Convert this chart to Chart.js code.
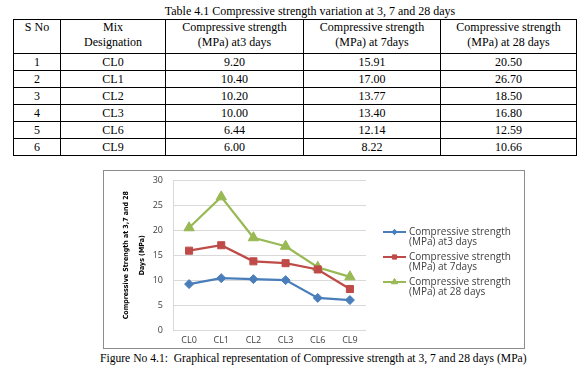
<!DOCTYPE html>
<html>
<head>
<meta charset="utf-8">
<script src="https://cdn.jsdelivr.net/npm/chart.js@4"></script>
<style>
  html, body { margin:0; padding:0; background:#fff; }
  body { width:588px; height:373px; position:relative; overflow:hidden; font-family:"Liberation Serif", "Times New Roman", serif; }
  #ttl { position:absolute; left:150px; width:320px; top:4px; text-align:center; font-size:12px; color:#000; white-space:nowrap; }
  table { position:absolute; left:13px; top:19px; border-collapse:collapse; font-size:12px; color:#000; font-family:"Liberation Serif", serif; }
  td { border:1px solid #000; text-align:center; padding:0; line-height:14px; height:16px; }
  th { border:1px solid #000; text-align:center; font-weight:normal; padding:0; line-height:15px; height:33px; vertical-align:top; }
  #frame { position:absolute; left:103px; top:170px; width:420px; height:177px; border:1px solid #8c8c8c; }
  #c { position:absolute; left:0; top:-6px; }
  #cap { position:absolute; left:100px; top:352px; font-size:11.6px; white-space:pre; color:#000; }
</style>
</head>
<body>
<div id="ttl">Table 4.1 Compressive strength variation at 3, 7 and 28 days</div>
<table id="tbl"></table>
<div id="frame"><canvas id="c" width="420" height="183"></canvas></div>
<div id="cap">Figure No 4.1:  Graphical representation of Compressive strength at 3, 7 and 28 days (MPa)</div>
<script>
const categories = ["CL0", "CL1", "CL2", "CL3", "CL6", "CL9"];
const serialNos = ["1", "2", "3", "4", "5", "6"];
const days3 = [9.20, 10.40, 10.20, 10.00, 6.44, 6.00];
const days7 = [15.91, 17.00, 13.77, 13.40, 12.14, 8.22];
const days28 = [20.50, 26.70, 18.50, 16.80, 12.59, 10.66];
const seriesLabels = [
  ["Compressive strength", "(MPa) at3 days"],
  ["Compressive strength", "(MPa) at 7days"],
  ["Compressive strength", "(MPa) at 28 days"]
];
const tableHeaders = [
  ["S No"], ["Mix", "Designation"],
  ["Compressive strength", "(MPa) at3 days"],
  ["Compressive strength", "(MPa) at 7days"],
  ["Compressive strength", "(MPa) at 28 days"]
];
const yTicks = [0, 5, 10, 15, 20, 25, 30];
const yTitle = ["Compressive Strength at 3,7 and 28", "Days (MPa)"];

// build table
const colW = [47, 105, 138, 137, 136];
const tbl = document.getElementById('tbl');
let html = '<tr>' + tableHeaders.map((h, i) => `<th style="width:${colW[i]-1}px">${h.join('<br>')}</th>`).join('') + '</tr>';
categories.forEach((c, i) => {
  html += `<tr><td>${serialNos[i]}</td><td>${c}</td><td>${days3[i].toFixed(2)}</td><td>${days7[i].toFixed(2)}</td><td>${days28[i].toFixed(2)}</td></tr>`;
});
tbl.innerHTML = html;

const colors = ["#4a7ebb", "#be4b48", "#98b954"];
const styles = ["rectRot", "rect", "triangle"];
const radii = [4.5, 5, 6];

const legendPlugin = {
  id: 'sideLegend',
  afterDraw(chart) {
    const ctx = chart.ctx;
    ctx.save();
    chart.data.datasets.forEach((ds, i) => {
      const y0 = 67 + i * 25;
      ctx.strokeStyle = ds.borderColor;
      ctx.lineWidth = 2;
      ctx.beginPath();
      ctx.moveTo(279, y0);
      ctx.lineTo(302, y0);
      ctx.stroke();
      ctx.fillStyle = ds.backgroundColor;
      ctx.strokeStyle = ds.borderColor;
      ctx.lineWidth = 1;
      Chart.helpers.drawPoint(ctx, {pointStyle: ds.pointStyle, radius: ds.pointRadius * 0.6, borderWidth: 1}, 290.5, y0);
      ctx.fillStyle = '#404040';
      ctx.font = '10px "Open Sans"';
      ctx.textBaseline = 'middle';
      ds.label.forEach((t, k) => ctx.fillText(t, 305, y0 + k * 10.5));
    });
    ctx.restore();
  }
};

const mk = (label, data, i) => ({
  label, data,
  borderColor: colors[i], backgroundColor: colors[i],
  pointBackgroundColor: colors[i], pointBorderColor: colors[i],
  pointStyle: styles[i], pointRadius: radii[i], pointBorderWidth: 1,
  borderWidth: 2.25, tension: 0
});

new Chart(document.getElementById('c'), {
  type: 'line',
  data: {
    labels: categories,
    datasets: [mk(seriesLabels[0], days3, 0), mk(seriesLabels[1], days7, 1), mk(seriesLabels[2], days28, 2)]
  },
  options: {
    responsive: false, animation: false, devicePixelRatio: 1,
    layout: { autoPadding: false, padding: { left: 14, right: 158, top: 3, bottom: 0 } },
    plugins: { legend: { display: false }, tooltip: { enabled: false } },
    scales: {
      x: {
        offset: true,
        grid: { display: false, drawTicks: false },
        border: { display: false },
        ticks: { color: '#404040', font: { family: 'Open Sans', size: 9 }, padding: 5, maxRotation: 0 },
        afterFit(s) { s.height = 18; }
      },
      y: {
        min: 0, max: 30,
        afterBuildTicks(s) { s.ticks = yTicks.map(v => ({ value: v })); },
        grid: { color: '#d9d9d9', drawTicks: false, lineWidth: 1 },
        border: { display: true, color: '#d9d9d9' },
        ticks: { color: '#404040', font: { family: 'Open Sans', size: 9 }, padding: 10 },
        title: { display: true, text: yTitle, color: '#000', font: { family: '"DejaVu Sans Condensed", "Liberation Sans Narrow", sans-serif', size: 7, weight: 'bold', lineHeight: 2.3 }, padding: 0 },
        afterFit(s) { s.width = 55; }
      }
    }
  },
  plugins: [legendPlugin]
});
</script>
</body>
</html>
